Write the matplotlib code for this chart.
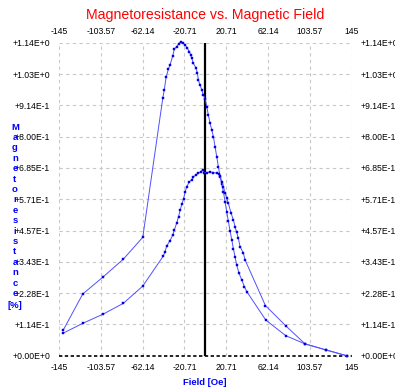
import matplotlib
matplotlib.use("Agg")
import matplotlib.pyplot as plt

plt.rcParams['font.family'] = ['Liberation Sans', 'DejaVu Sans']

# ---- data ----
field_a = [-141.0, -121.5, -101.1, -81.3, -62.0, -42.2, -40.7, -38.9, -36.6, -35.0,
           -32.3, -30.7, -28.3, -26.6, -24.6, -21.8, -20.1, -17.8, -15.8, -14.5,
           -13.5, -11.9, -9.2, -7.9, -6.9, -5.3, -3.6, -1.9, 0.0, 1.4,
           3.0, 4.7, 6.3, 8.0, 9.6, 11.3, 12.9, 14.6, 16.3, 17.9,
           19.6, 21.2, 22.8, 24.5, 26.2, 27.8, 29.4, 31.1, 33.4, 36.1,
           38.7, 41.0, 59.9, 79.7, 98.8, 119.6, 140.0]
mr_a = [0.092, 0.225, 0.288, 0.352, 0.432, 0.939, 0.970, 1.016, 1.046, 1.061,
        1.094, 1.119, 1.128, 1.137, 1.145, 1.140, 1.134, 1.122, 1.109, 1.097,
        1.085, 1.067, 1.049, 1.031, 1.006, 0.988, 0.970, 0.951, 0.935, 0.909,
        0.878, 0.848, 0.824, 0.799, 0.763, 0.726, 0.690, 0.653, 0.625, 0.598,
        0.560, 0.525, 0.490, 0.455, 0.422, 0.390, 0.361, 0.330, 0.301, 0.276,
        0.252, 0.234, 0.130, 0.073, 0.043, 0.021, 0.000]

field_b = [-141.0, -121.5, -101.1, -81.3, -62.0, -41.6, -39.9, -38.3, -35.0, -32.3,
           -30.7, -28.3, -26.6, -25.0, -23.3, -21.6, -20.0, -18.4, -15.8, -13.5,
           -11.8, -9.2, -6.9, -4.6, -2.6, -1.3, 1.4, 4.7, 8.0, 11.3,
           13.5, 14.6, 16.3, 17.9, 19.6, 21.2, 22.8, 25.5, 27.8, 29.4,
           31.1, 32.7, 34.4, 37.7, 39.4, 59.5, 79.7, 98.8, 119.6, 140.0]
mr_b = [0.082, 0.118, 0.152, 0.191, 0.254, 0.364, 0.380, 0.400, 0.420, 0.440,
        0.459, 0.485, 0.507, 0.530, 0.553, 0.572, 0.598, 0.617, 0.635, 0.641,
        0.653, 0.659, 0.666, 0.671, 0.678, 0.668, 0.668, 0.671, 0.668, 0.666,
        0.662, 0.655, 0.635, 0.617, 0.593, 0.574, 0.556, 0.520, 0.495, 0.470,
        0.450, 0.428, 0.398, 0.374, 0.349, 0.183, 0.109, 0.043, 0.021, 0.000]

x_ticks = [-145, -103.57, -62.14, -20.71, 20.71, 62.14, 103.57, 145]
x_tick_labels = ['-145', '-103.57', '-62.14', '-20.71', '20.71', '62.14', '103.57', '145']
y_ticks = [0.0, 0.1142, 0.2284, 0.3426, 0.4568, 0.571, 0.6852, 0.7994, 0.9136, 1.0278, 1.142]
y_tick_labels = ['+0.00E+0', '+1.14E-1', '+2.28E-1', '+3.43E-1', '+4.57E-1', '+5.71E-1',
                 '+6.85E-1', '+8.00E-1', '+9.14E-1', '+1.03E+0', '+1.14E+0']

title = 'Magnetoresistance vs. Magnetic Field'
x_label = 'Field [Oe]'
y_label_word = 'Magnetoresistance'
y_label_unit = '[%]'

# ---- figure ----
W, H = 395, 388
fig = plt.figure(figsize=(W / 100, H / 100), dpi=100)
fig.patch.set_facecolor('white')
ax = fig.add_axes([59 / W, 1 - 355.7 / H, (351.7 - 59) / W, (355.7 - 42.7) / H])

ax.set_xlim(-145, 145)
ax.set_ylim(0, 1.142)
for s in ax.spines.values():
    s.set_visible(False)

grid_kw = dict(color='#c8c8c8', lw=0.8, ls=(0, (3, 3)), zorder=0)
for xv in x_ticks:
    ax.axvline(xv, **grid_kw)
for yv in y_ticks[1:]:
    ax.axhline(yv, **grid_kw)
ax.axhline(0, color='black', lw=1.2, ls=(0, (2, 1.5)), zorder=1, clip_on=False)
ax.axvline(0, color='black', lw=1.6, zorder=3)

line_col = '#5050ff'
for fx, my in ((field_a, mr_a), (field_b, mr_b)):
    ax.plot(fx, my, color=line_col, lw=0.7, marker='s', ms=1.6,
            mfc='#0000e0', mec='#0000e0', mew=0.3, zorder=4, clip_on=False)

ax.set_xticks(x_ticks)
ax.set_xticklabels(x_tick_labels)
ax.set_yticks(y_ticks)
ax.set_yticklabels(y_tick_labels)
ax.tick_params(axis='both', length=0, labelsize=6.2, colors='black',
               labeltop=True, labelright=True)
ax.tick_params(axis='x', pad=5)
ax.tick_params(axis='y', pad=6.5)

fig.text(205 / W, 1 - 15 / H, title, color='red', fontsize=10.2,
         ha='center', va='center')
fig.text(205 / W, 1 - 382.5 / H, x_label, color='blue', fontsize=6.8,
         fontweight='bold', ha='center', va='center')
for i, ch in enumerate(y_label_word):
    fig.text(15 / W, 1 - (127 + i * 10.4) / H, ch, color='blue', fontsize=6.8,
             fontweight='bold', ha='center', va='center')
fig.text(15 / W, 1 - 305 / H, y_label_unit, color='blue', fontsize=6.8,
         fontweight='bold', ha='center', va='center')

fig.savefig('out.png', dpi=100, facecolor='white')
